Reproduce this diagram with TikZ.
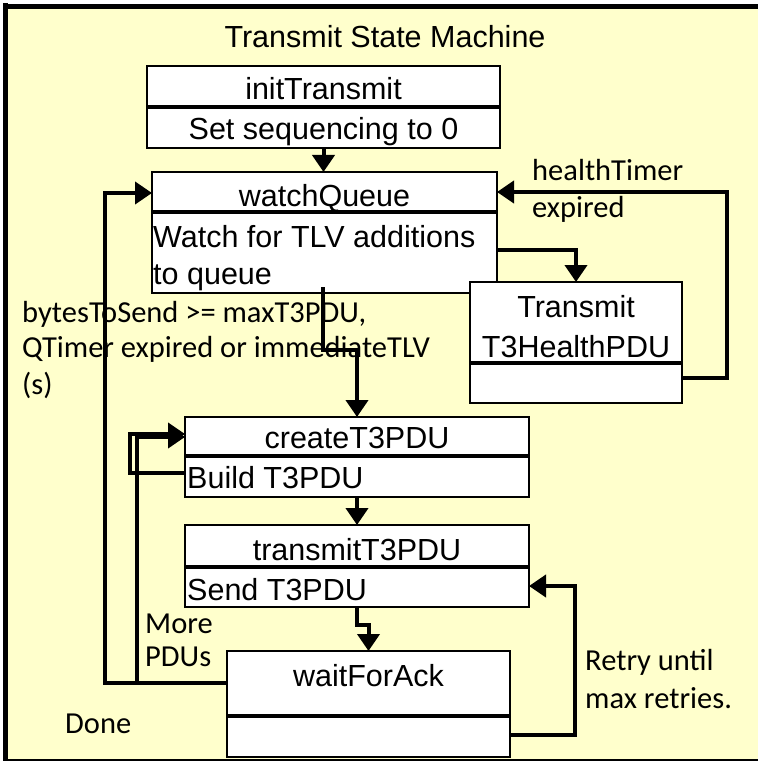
\documentclass[tikz,border=0pt]{standalone}
\usepackage{fontspec}
\setmainfont{Liberation Sans}
\newfontfamily\lblfont{Carlito}
\usetikzlibrary{arrows.meta}
\definecolor{paper}{HTML}{FFFFCC}
\begin{document}
\begin{tikzpicture}[x=1pt,y=-1pt,
  statebox/.style={draw=black, line width=1.8pt, fill=white, inner sep=0pt, outer sep=0pt},
  divider/.style={line width=3.5pt},
  conn/.style={line width=4pt, -{Triangle[length=17pt,width=22pt]}},
  boxtext/.style={font=\fontsize{30.5}{34}\selectfont, inner sep=0pt, anchor=base},
  boxleft/.style={boxtext, anchor=base west},
  lbl/.style={font=\lblfont\fontsize{30.5}{34}\selectfont, inner sep=0pt, anchor=base west},
]
\useasboundingbox (0,0) rectangle (758,762);

% frame
\fill[paper] (5,6) rectangle (758,760);
\draw[line width=5pt] (5.5,3.5) -- (5.5,760);
\draw[line width=5pt] (3,6.5) -- (758,6.5);
\draw[line width=1.2pt] (3,760) -- (758,760);

\node[boxtext] (title) at (385,48) {Transmit State Machine};

% states
\node[statebox, minimum width=353pt, minimum height=82pt] (init) at (323.5,107) {};
\draw[divider] (init.west |- 0,107) -- (init.east |- 0,107);
\node[boxtext] (initT) at (323.5,100) {initTransmit};
\node[boxtext] (initA) at (323.5,140) {Set sequencing to 0};

\node[statebox, minimum width=345pt, minimum height=121pt] (watch) at (324.5,232.5) {};
\draw[divider] (watch.west |- 0,212) -- (watch.east |- 0,212);
\node[boxtext] (watchT) at (324.5,206) {watchQueue};
\node[boxleft] (watchA) at (153,247) {Watch for TLV additions};
\node[boxleft] (watchB) at (153,284) {to queue};

\node[statebox, minimum width=212pt, minimum height=121pt] (health) at (576,342.5) {};
\draw[divider] (health.west |- 0,363) -- (health.east |- 0,363);
\node[boxtext] (healthT) at (576,317) {Transmit};
\node[boxtext] (healthU) at (576,357) {T3HealthPDU};

\node[statebox, minimum width=344pt, minimum height=80pt] (create) at (357,457) {};
\draw[divider] (create.west |- 0,456) -- (create.east |- 0,456);
\node[boxtext] (createT) at (357,448) {createT3PDU};
\node[boxleft] (createA) at (187,488) {Build T3PDU};

\node[statebox, minimum width=344pt, minimum height=82pt] (trans) at (357,566) {};
\draw[divider] (trans.west |- 0,567) -- (trans.east |- 0,567);
\node[boxtext] (transT) at (357,560) {transmitT3PDU};
\node[boxleft] (transA) at (187,600) {Send T3PDU};

\node[statebox, minimum width=283pt, minimum height=106pt] (wait) at (368.5,704) {};
\draw[divider] (wait.west |- 0,716) -- (wait.east |- 0,716);
\node[boxtext] (waitT) at (368.5,686) {waitForAck};

% transitions
\draw[conn] (init.south) -- (watch.north -| init.south);
\draw[conn] (watch.east |- 0,250) -| (health.north);
\draw[conn] (health.east |- 0,378) -- (727,378) -- (727,192) -- (watch.east |- 0,192);
\draw[conn] (323,287) -- (323,350) -| (create.north);
\draw[conn] (create.south) -- (trans.north);
\draw[conn] (trans.south) -- ++(0,18) -| (wait.north);
\draw[conn] (wait.east |- 0,735) -- (575,735) -- (575,586) -- (trans.east |- 0,586);
\draw[conn] (wait.west |- 0,683) -- (105,683) -- (105,193) -- (watch.west |- 0,193);
\draw[conn] (wait.west |- 0,683) -- (137,683) -- (137,437) -- (create.west |- 0,437);
\draw[conn] (create.west |- 0,473) -- (130,473) -- (130,434) -- (create.west |- 0,434);

% transition labels
\node[lbl] (hl1) at (532,180) {healthTimer};
\node[lbl] (hl2) at (532,217) {expired};
\node[lbl] (bl1) at (22,322) {bytesToSend >= maxT3PDU,};
\node[lbl] (bl2) at (22,357) {QTimer expired or immediateTLV};
\node[lbl] (bl3) at (22,394) {(s)};
\node[lbl] (ml1) at (145,633) {More};
\node[lbl] (ml2) at (145,666) {PDUs};
\node[lbl] (dl) at (65,733) {Done};
\node[lbl] (rl1) at (585,670) {Retry until};
\node[lbl] (rl2) at (585,708) {max retries.};
\end{tikzpicture}
\end{document}
